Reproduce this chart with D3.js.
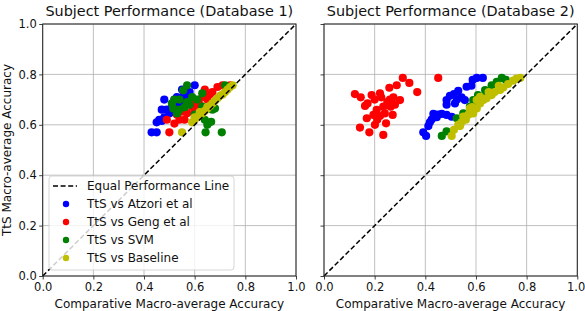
<!DOCTYPE html>
<html><head><meta charset="utf-8">
<script src="https://cdn.jsdelivr.net/npm/d3@7"></script>
<style>body{margin:0;background:#fff}svg{display:block}text{font-family:"DejaVu Sans",sans-serif}</style>
</head><body><svg id="c" width="585" height="311"></svg>
<script>
const titles = ["Subject Performance (Database 1)", "Subject Performance (Database 2)"];
const xLabel = "Comparative Macro-average Accuracy";
const yLabel = "TtS Macro-average Accuracy";
const tickValues = [0, 0.2, 0.4, 0.6, 0.8, 1.0];
const seriesNames = ["TtS vs Atzori et al", "TtS vs Geng et al", "TtS vs SVM", "TtS vs Baseline"];
const seriesColors = ["#0000ff", "#ff0000", "#008000", "#bfbf00"];
const lineName = "Equal Performance Line";

// Database 1: [comparative accuracy, TtS accuracy]
const db1Atzori = [[0.43,0.57],[0.45,0.57],[0.45,0.61],[0.47,0.615],[0.48,0.63],[0.47,0.66],[0.48,0.70],[0.50,0.645],[0.51,0.67],[0.52,0.70],[0.53,0.71],[0.55,0.71],[0.57,0.70],[0.55,0.74],[0.58,0.73],[0.60,0.757],[0.52,0.65],[0.54,0.68],[0.56,0.69],[0.57,0.72],[0.49,0.66],[0.53,0.665],[0.46,0.62],[0.56,0.73]];
const db1Geng = [[0.50,0.57],[0.49,0.62],[0.52,0.605],[0.54,0.62],[0.57,0.646],[0.60,0.66],[0.61,0.685],[0.63,0.71],[0.65,0.70],[0.67,0.73],[0.69,0.75],[0.71,0.757],[0.74,0.757],[0.64,0.74],[0.58,0.685],[0.55,0.652],[0.62,0.64],[0.59,0.672],[0.53,0.64],[0.60,0.70],[0.66,0.72],[0.56,0.62],[0.62,0.68]];
const db1Svm = [[0.57,0.757],[0.555,0.737],[0.54,0.70],[0.515,0.665],[0.51,0.685],[0.53,0.645],[0.57,0.69],[0.59,0.71],[0.61,0.70],[0.63,0.725],[0.63,0.672],[0.67,0.66],[0.665,0.612],[0.64,0.62],[0.643,0.57],[0.707,0.57],[0.65,0.60],[0.68,0.665],[0.72,0.757],[0.52,0.70],[0.56,0.67],[0.58,0.68],[0.54,0.66],[0.60,0.64]];
const db1Baseline = [[0.55,0.57],[0.59,0.61],[0.60,0.62],[0.61,0.63],[0.62,0.64],[0.63,0.645],[0.64,0.655],[0.65,0.665],[0.66,0.675],[0.67,0.685],[0.68,0.695],[0.69,0.705],[0.70,0.715],[0.71,0.72],[0.72,0.73],[0.73,0.74],[0.74,0.75],[0.75,0.757],[0.60,0.63],[0.62,0.65],[0.65,0.67]];

// Database 2
const db2Atzori = [[0.392,0.57],[0.403,0.556],[0.412,0.595],[0.425,0.621],[0.432,0.643],[0.445,0.63],[0.465,0.643],[0.484,0.639],[0.504,0.632],[0.484,0.698],[0.497,0.715],[0.513,0.722],[0.53,0.735],[0.543,0.709],[0.556,0.698],[0.517,0.685],[0.484,0.68],[0.563,0.751],[0.587,0.778],[0.603,0.786],[0.627,0.786],[0.582,0.755],[0.418,0.61],[0.45,0.64],[0.525,0.70]];
const db2Geng = [[0.122,0.722],[0.145,0.709],[0.162,0.675],[0.169,0.626],[0.142,0.589],[0.179,0.57],[0.234,0.56],[0.188,0.718],[0.221,0.725],[0.258,0.747],[0.287,0.757],[0.311,0.786],[0.337,0.766],[0.368,0.73],[0.30,0.698],[0.274,0.709],[0.25,0.69],[0.234,0.672],[0.208,0.659],[0.195,0.639],[0.221,0.635],[0.271,0.639],[0.245,0.606],[0.201,0.60],[0.172,0.685],[0.263,0.672],[0.451,0.786],[0.226,0.709],[0.20,0.70],[0.26,0.70],[0.28,0.68],[0.24,0.645],[0.21,0.62]];
const db2Svm = [[0.465,0.556],[0.484,0.574],[0.524,0.626],[0.55,0.645],[0.576,0.672],[0.589,0.698],[0.608,0.718],[0.636,0.738],[0.662,0.757],[0.682,0.77],[0.702,0.786],[0.718,0.778],[0.60,0.68],[0.64,0.72],[0.62,0.70]];
const db2Baseline = [[0.504,0.556],[0.513,0.58],[0.53,0.60],[0.543,0.61],[0.55,0.633],[0.57,0.64],[0.589,0.645],[0.576,0.665],[0.603,0.665],[0.616,0.685],[0.629,0.698],[0.616,0.711],[0.642,0.705],[0.662,0.718],[0.674,0.73],[0.695,0.738],[0.708,0.748],[0.727,0.762],[0.747,0.775],[0.76,0.783],[0.775,0.786],[0.537,0.595],[0.56,0.62],[0.603,0.698],[0.65,0.73],[0.69,0.755],[0.585,0.67]];

const panels = [
  {title: titles[0], x0: 42.7, x1: 296, series: [db1Atzori, db1Geng, db1Svm, db1Baseline], yLabels: true, legend: true},
  {title: titles[1], x0: 324, x1: 577.3, series: [db2Atzori, db2Geng, db2Svm, db2Baseline], yLabels: false, legend: false}
];
const yTop = 24, yBot = 276;
const svg = d3.select("#c");
svg.append("rect").attr("width", 585).attr("height", 311).attr("fill", "#fff");

panels.forEach((p, pi) => {
  const x = d3.scaleLinear().domain([0, 1]).range([p.x0, p.x1]);
  const y = d3.scaleLinear().domain([0, 1]).range([yBot, yTop]);
  const g = svg.append("g");
  g.selectAll(".gx").data(tickValues).join("line")
    .attr("x1", d => x(d)).attr("x2", d => x(d)).attr("y1", yTop).attr("y2", yBot)
    .attr("stroke", "#b0b0b0").attr("stroke-width", 0.8);
  g.selectAll(".gy").data(tickValues).join("line")
    .attr("y1", d => y(d)).attr("y2", d => y(d)).attr("x1", p.x0).attr("x2", p.x1)
    .attr("stroke", "#b0b0b0").attr("stroke-width", 0.8);
  p.series.forEach((s, i) => {
    g.append("g").selectAll("circle").data(s).join("circle")
      .attr("cx", d => x(d[0])).attr("cy", d => y(d[1])).attr("r", 4.1)
      .attr("fill", seriesColors[i]);
  });
  g.append("line").attr("x1", x(0)).attr("y1", y(0)).attr("x2", x(1)).attr("y2", y(1))
    .attr("stroke", "#000").attr("stroke-width", 1.5).attr("stroke-dasharray", "5,2.6");
  const xa = g.append("g").attr("transform", `translate(0,${yBot})`)
    .call(d3.axisBottom(x).tickValues(tickValues).tickFormat(d3.format(".1f")).tickSize(3.5).tickSizeOuter(0));
  const ya = g.append("g").attr("transform", `translate(${p.x0},0)`)
    .call(d3.axisLeft(y).tickValues(tickValues).tickFormat(p.yLabels ? d3.format(".1f") : () => "").tickSize(3.5).tickSizeOuter(0));
  [xa, ya].forEach(a => {
    a.select(".domain").remove();
    a.selectAll("text").attr("font-size", "11.5px").attr("font-family", "DejaVu Sans").attr("fill", "#111");
    a.selectAll("line").attr("stroke", "#111").attr("stroke-width", 0.8);
  });
  xa.selectAll("text").attr("dy", "0.71em").attr("y", 7);
  if (pi === 1) {
    // keep the last tick label inside the window
    xa.selectAll(".tick").filter(d => d === 1).select("text").attr("text-anchor", "end").attr("x", 7.5);
  }
  ya.selectAll("text").attr("x", -6);
  g.append("rect").attr("x", p.x0).attr("y", yTop).attr("width", p.x1 - p.x0).attr("height", yBot - yTop)
    .attr("fill", "none").attr("stroke", "#222").attr("stroke-width", 1);
  g.append("text").attr("x", (p.x0 + p.x1) / 2).attr("y", 16).attr("text-anchor", "middle")
    .attr("font-size", "14.4px").attr("fill", "#111").text(p.title);
  g.append("text").attr("x", (p.x0 + p.x1) / 2).attr("y", 308).attr("text-anchor", "middle")
    .attr("font-size", "12px").attr("fill", "#111").text(xLabel);
  if (p.yLabels) {
    g.append("text").attr("transform", `translate(11,${(yTop + yBot) / 2}) rotate(-90)`)
      .attr("text-anchor", "middle").attr("font-size", "12px").attr("fill", "#111").text(yLabel);
  }
  if (p.legend) {
    const lg = g.append("g");
    lg.append("rect").attr("x", 49).attr("y", 176).attr("width", 185).attr("height", 94).attr("rx", 3)
      .attr("fill", "#fff").attr("fill-opacity", 0.8).attr("stroke", "#ccc").attr("stroke-width", 0.8);
    const entries = [lineName].concat(seriesNames);
    entries.forEach((name, i) => {
      const cy = 186 + i * 18;
      if (i === 0) {
        lg.append("line").attr("x1", 53).attr("x2", 77).attr("y1", cy).attr("y2", cy)
          .attr("stroke", "#000").attr("stroke-width", 1.5).attr("stroke-dasharray", "5,2.6");
      } else {
        lg.append("circle").attr("cx", 66).attr("cy", cy).attr("r", 3.2).attr("fill", seriesColors[i - 1]);
      }
      lg.append("text").attr("x", 87).attr("y", cy + 4.3).attr("font-size", "12px").attr("fill", "#111").text(name);
    });
  }
});
</script></body></html>
